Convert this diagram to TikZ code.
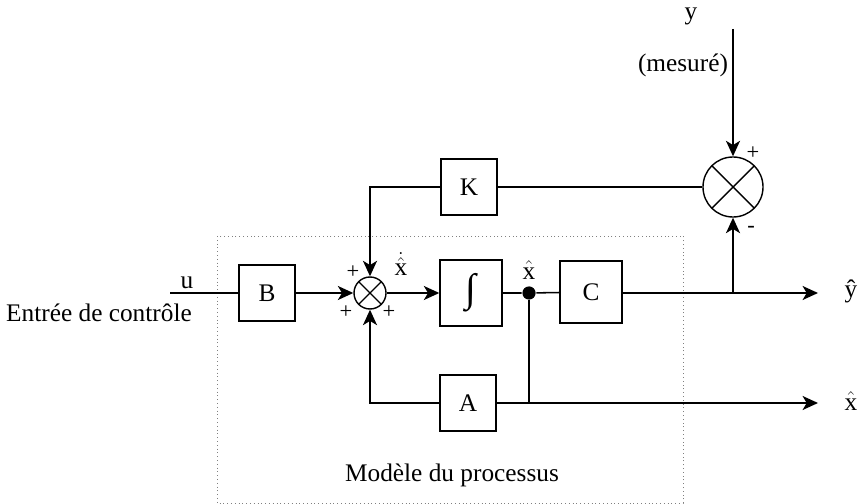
\documentclass[tikz,border=0pt]{standalone}
\usepackage{fontspec}
\setmainfont{Liberation Serif}
\usetikzlibrary{arrows.meta}
\tikzset{
  blocbox/.style={draw,line width=1pt,minimum width=1.4cm,minimum height=1.4cm,inner sep=0pt},
  sommateur/.style={draw,circle,line width=1pt,inner sep=0pt,
    path picture={\draw[line width=1pt]
      (path picture bounding box.north west) -- (path picture bounding box.south east)
      (path picture bounding box.north east) -- (path picture bounding box.south west);}},
  signe/.style={inner sep=0pt,font=\fontsize{16}{18}\selectfont},
}
\begin{document}
\begin{tikzpicture}[x=0.025cm,y=-0.025cm,>={Stealth[length=11pt,width=10pt,inset=3pt]},
    line width=1.1pt,font=\fontsize{18}{21}\selectfont]
            \useasboundingbox (0,0) rectangle (861,504);
            % modele du processus
            \draw[dotted,line width=0.7pt,gray] (217,236) rectangle (683,503);
            \node (modele) at (452,475) {Modèle du processus};
            % blocs
            \node[blocbox] (B) at (267,293) {B};
            \node[sommateur,minimum size=0.8cm] (S1) at (370,293) {};
            \node[blocbox,minimum width=1.55cm,minimum height=1.65cm,font=\fontsize{28}{30}\selectfont] (I) at (471,293) {∫};
            \node[circle,fill,inner sep=0pt,minimum size=0.33cm] (P) at (529,293) {};
            \node[blocbox,minimum width=1.55cm,minimum height=1.55cm] (C) at (591,292) {C};
            \node[blocbox] (K) at (469,187) {K};
            \node[blocbox] (A) at (468,403) {A};
            \node[sommateur,minimum size=1.5cm] (S2) at (733,187) {};
            \coordinate (uin) at (170,293);
            \coordinate (yout) at (818,293);
            \coordinate (xout) at (818,403);
            \coordinate (T) at (733,293);
            \coordinate (yin) at (733,29);
            \coordinate (Q) at (529,403);
            % liaisons
            \draw (uin) -- (B);
            \draw[->] (B) -- (S1);
            \draw[->] (S1) -- (I);
            \draw (I) -- (P) -- (C);
            \draw[->] (C.east |- T) -- (yout);
            \draw[->] (T) -- (S2);
            \draw[->] (yin) -- (S2);
            \draw (S2) -- (K);
            \draw[->] (K) -| (S1);
            \draw (P) -- (Q) -- (A);
            \draw[->] (A) -| (S1);
            \draw[->] (Q) -- (xout);
            % textes
            \node (u) at (187,283) {u};
            \node (entree) at (99,313) {Entrée de contrôle};
            \node (yhat) at (851,291) {\^y};
            \node (xhat) at (851,401) {$\hat{\textrm{x}}$};
            \node (xP) at (529,270) {$\hat{\textrm{x}}$};
            \node (xdot) at (401,264) {$\dot{\hat{\textrm{x}}}$};
            \node (ymes) at (691,16) {y};
            \node (mesure) at (683,65) {(mesuré)};
            \node[signe] (p1) at (353,272) {+};
            \node[signe] (p2) at (346,312) {+};
            \node[signe] (p3) at (389,312) {+};
            \node[signe] (p4) at (753,153) {+};
            \node[signe] (m1) at (751,229) {-};
        \end{tikzpicture}
\end{document}
